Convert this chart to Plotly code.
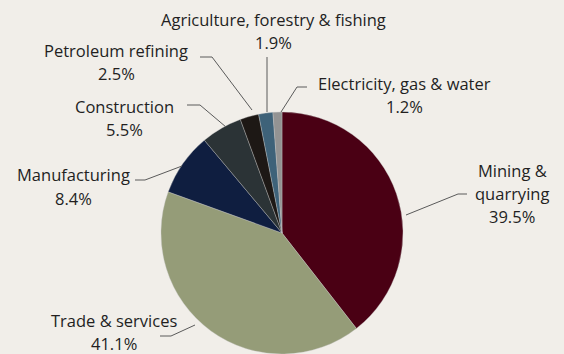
import plotly.graph_objects as go

# ---- data ----
sectors = ["Mining & quarrying", "Trade & services", "Manufacturing", "Construction",
           "Petroleum refining", "Agriculture, forestry & fishing", "Electricity, gas & water"]
shares = [39.5, 41.1, 8.4, 5.5, 2.5, 1.9, 1.2]
colors = ["#4a0014", "#959c78", "#0f1e40", "#2b3336", "#1d1815", "#3e6279", "#939393"]

W, H = 564, 354
BG = "#f1eee9"
TXT = "#231f1f"
LINE = "#5a5a5a"

def px(x, y):
    return x / W, 1 - y / H

# pie placement (pixels)
cx, cy, R = 282, 233, 121
x0, y0 = px(cx - R, cy + R)
x1, y1 = px(cx + R, cy - R)

fig = go.Figure(go.Pie(
    labels=sectors, values=shares, sort=False, direction="clockwise", rotation=0,
    marker=dict(colors=colors, line=dict(color="rgba(200,200,200,0.6)", width=0.6)),
    textinfo="none", hoverinfo="label+percent", showlegend=False,
    domain=dict(x=[x0, x1], y=[max(0, y0), y1]),
))

# label text blocks: (lines, x, first-line y)
labels = [
    (["Agriculture, forestry & fishing", f"{shares[5]}%"], 273, 19),
    (["Petroleum refining", f"{shares[4]}%"], 116, 50),
    (["Electricity, gas & water", f"{shares[6]}%"], 404, 83),
    (["Construction", f"{shares[3]}%"], 125, 106),
    (["Manufacturing", f"{shares[2]}%"], 73, 175),
    (["Mining &", "quarrying", f"{shares[0]}%"], 512, 170),
    (["Trade & services", f"{shares[1]}%"], 114, 320),
]
lh = 23.5
anns = []
for lines, x, y in labels:
    for i, t in enumerate(lines):
        ax, ay = px(x, y + i * lh)
        anns.append(dict(x=ax, y=ay, xref="paper", yref="paper", text=t, showarrow=False,
                         xanchor="center", yanchor="middle",
                         font=dict(family="Open Sans", size=16.5, color=TXT)))

# leader lines (pixel polylines)
leaders = [
    [(467, 194), (458, 194), (406, 215)],
    [(160, 336), (171, 336), (195, 325)],
    [(135, 180), (145, 180), (182, 166)],
    [(187, 105), (200, 105), (226, 127)],
    [(200, 57), (212, 57), (252, 110)],
    [(267, 57), (267, 112)],
    [(307, 87), (297, 87), (281, 112)],
]
shapes = []
for pts in leaders:
    for (ax_, ay_), (bx_, by_) in zip(pts[:-1], pts[1:]):
        a = px(ax_, ay_); b = px(bx_, by_)
        shapes.append(dict(type="line", xref="paper", yref="paper", x0=a[0], y0=a[1],
                           x1=b[0], y1=b[1], line=dict(color=LINE, width=1)))

fig.update_layout(width=W, height=H, margin=dict(l=0, r=0, t=0, b=0),
                  paper_bgcolor=BG, plot_bgcolor=BG, annotations=anns, shapes=shapes)

fig.write_html("out.html")
